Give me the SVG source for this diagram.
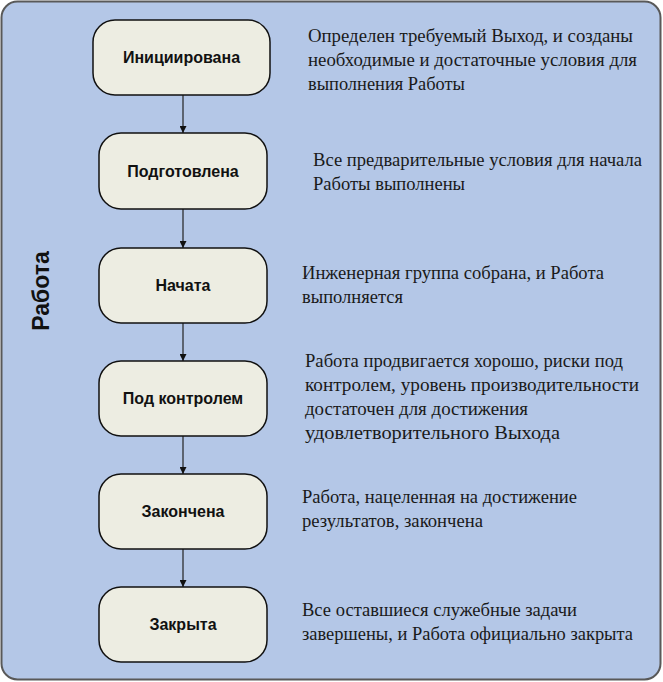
<svg xmlns="http://www.w3.org/2000/svg" width="663" height="682" viewBox="0 0 663 682">
<style>
.node rect{fill:#EDEDE2;stroke:#111;stroke-width:1.5}
.node text{font-family:"Liberation Sans",Arial,sans-serif;font-weight:bold;font-size:16px;fill:#111;text-anchor:middle;dominant-baseline:central}
.conn line{stroke:#222;stroke-width:1.2}
#descriptions tspan{}
</style>
<defs>
<marker id="ah" viewBox="0 0 10 10" refX="10" refY="5" markerWidth="7" markerHeight="7" markerUnits="userSpaceOnUse" orient="auto">
<path d="M0,0 L10,5 L0,10 z" fill="#111"/>
</marker>
</defs>
<rect id="frame" x="1.5" y="1.5" width="659" height="678" rx="16" fill="#B4C7E7" stroke="#595959" stroke-width="2"/>
<text id="lane-label" transform="translate(49,291) rotate(-90)" font-family="Liberation Sans,Arial,sans-serif" font-weight="bold" font-size="23" fill="#111" text-anchor="middle">Работа</text>
<g class="conn" id="connectors">
<line x1="183" y1="95" x2="183" y2="133" marker-end="url(#ah)"/>
<line x1="183" y1="209" x2="183" y2="248" marker-end="url(#ah)"/>
<line x1="183" y1="323" x2="183" y2="361" marker-end="url(#ah)"/>
<line x1="183" y1="436" x2="183" y2="474" marker-end="url(#ah)"/>
<line x1="183" y1="549" x2="183" y2="587" marker-end="url(#ah)"/>
</g>
<g class="node" id="n1"><rect x="93" y="20" width="177" height="75" rx="22"/><text x="181.5" y="57.5">Инициирована</text></g>
<g class="node" id="n2"><rect x="99" y="133" width="168" height="76" rx="22"/><text x="183" y="171">Подготовлена</text></g>
<g class="node" id="n3"><rect x="99" y="248" width="168" height="75" rx="22"/><text x="183" y="285.5">Начата</text></g>
<g class="node" id="n4"><rect x="99" y="361" width="168" height="75" rx="22"/><text x="183" y="398.5">Под контролем</text></g>
<g class="node" id="n5"><rect x="99" y="474" width="168" height="75" rx="22"/><text x="183" y="511.5">Закончена</text></g>
<g class="node" id="n6"><rect x="99" y="587" width="168" height="75" rx="22"/><text x="183" y="624.5">Закрыта</text></g>
<g id="descriptions" font-family="'Liberation Serif', 'Times New Roman', serif" font-size="18" fill="#1a1a1a" lengthAdjust="spacingAndGlyphs">
<text x="308" y="42"><tspan x="308" textLength="325" lengthAdjust="spacingAndGlyphs">Определен требуемый Выход, и созданы</tspan><tspan x="308" dy="24" textLength="329" lengthAdjust="spacingAndGlyphs">необходимые и достаточные условия для</tspan><tspan x="308" dy="24" textLength="157" lengthAdjust="spacingAndGlyphs">выполнения Работы</tspan></text>
<text x="313" y="166"><tspan x="313" textLength="329" lengthAdjust="spacingAndGlyphs">Все предварительные условия для начала</tspan><tspan x="313" dy="24" textLength="152" lengthAdjust="spacingAndGlyphs">Работы выполнены</tspan></text>
<text x="302" y="279"><tspan x="302" textLength="302" lengthAdjust="spacingAndGlyphs">Инженерная группа собрана, и Работа</tspan><tspan x="302" dy="24" textLength="101" lengthAdjust="spacingAndGlyphs">выполняется</tspan></text>
<text x="305" y="367"><tspan x="305" textLength="318" lengthAdjust="spacingAndGlyphs">Работа продвигается хорошо, риски под</tspan><tspan x="305" dy="24" textLength="334" lengthAdjust="spacingAndGlyphs">контролем, уровень производительности</tspan><tspan x="305" dy="24" textLength="223" lengthAdjust="spacingAndGlyphs">достаточен для достижения</tspan><tspan x="305" dy="24" textLength="255" lengthAdjust="spacingAndGlyphs">удовлетворительного Выхода</tspan></text>
<text x="302" y="503"><tspan x="302" textLength="275" lengthAdjust="spacingAndGlyphs">Работа, нацеленная на достижение</tspan><tspan x="302" dy="24" textLength="181" lengthAdjust="spacingAndGlyphs">результатов, закончена</tspan></text>
<text x="302" y="616"><tspan x="302" textLength="275" lengthAdjust="spacingAndGlyphs">Все оставшиеся служебные задачи</tspan><tspan x="302" dy="24" textLength="331" lengthAdjust="spacingAndGlyphs">завершены, и Работа официально закрыта</tspan></text>
</g>
</svg>
